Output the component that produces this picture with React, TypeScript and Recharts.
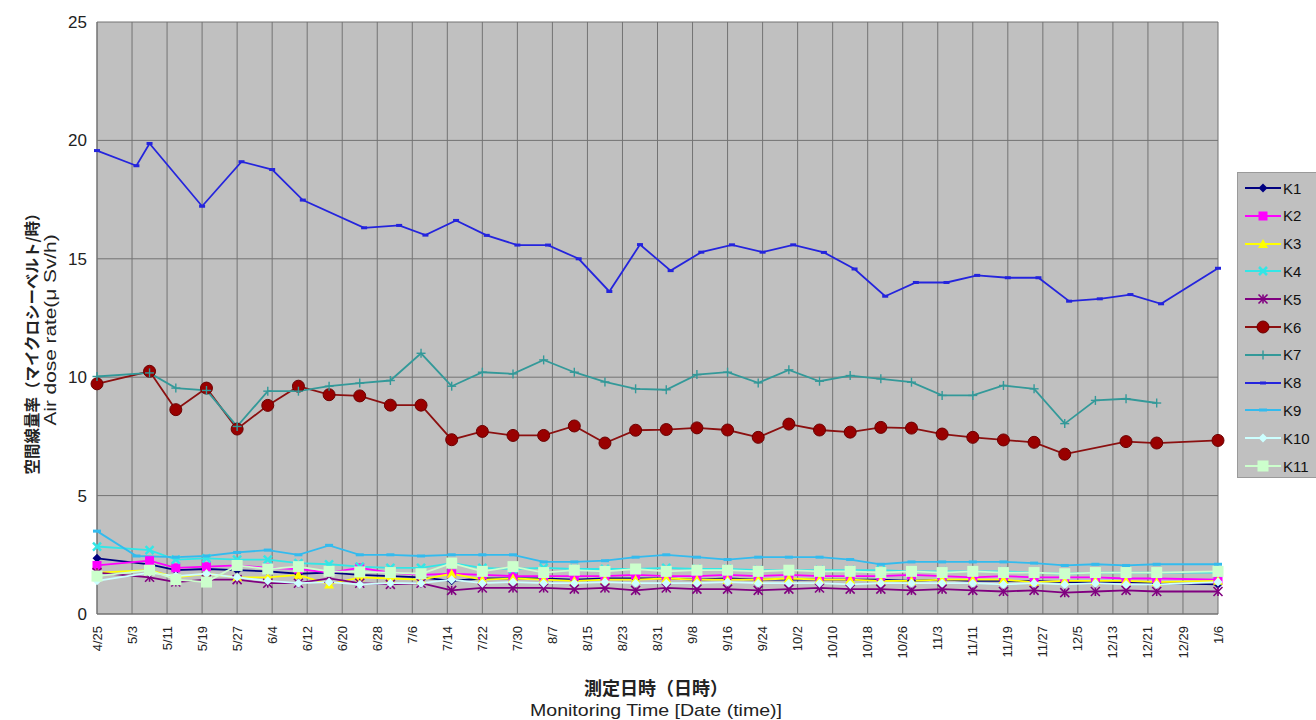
import { LineChart, Line, XAxis, YAxis, CartesianGrid } from "recharts";

// axis ticks
const tickDates = [
  "4/25", "5/3", "5/11", "5/19", "5/27", "6/4", "6/12", "6/20", "6/28", "7/6", "7/14",
  "7/22", "7/30", "8/7", "8/15", "8/23", "8/31", "9/8", "9/16", "9/24", "10/2", "10/10",
  "10/18", "10/26", "11/3", "11/11", "11/19", "11/27", "12/5", "12/13", "12/21", "12/29", "1/6",
];
const yTicks = [0, 5, 10, 15, 20, 25];

// measurement dates
const weekDates = [
  "4/25", "5/7", "5/13", "5/20", "5/27", "6/3", "6/10", "6/17", "6/24", "7/1", "7/8", "7/15",
  "7/22", "7/29", "8/5", "8/12", "8/19", "8/26", "9/2", "9/9", "9/16", "9/23", "9/30", "10/7",
  "10/14", "10/21", "10/28", "11/4", "11/11", "11/18", "11/25", "12/2", "12/9", "12/16", "12/23", "1/6",
];
const k9Dates = [
  "4/25", "5/4", "5/13", "5/20", "5/27", "6/3", "6/10", "6/17", "6/24", "7/1", "7/8", "7/15",
  "7/22", "7/29", "8/5", "8/12", "8/19", "8/26", "9/2", "9/9", "9/16", "9/23", "9/30", "10/7",
  "10/14", "10/21", "10/28", "11/4", "11/11", "11/18", "11/25", "12/2", "12/9", "12/16", "12/23", "1/6",
];
const k6Dates = [
  "4/25", "5/7", "5/13", "5/20", "5/27", "6/3", "6/10", "6/17", "6/24", "7/1", "7/8", "7/15",
  "7/22", "7/29", "8/5", "8/12", "8/19", "8/26", "9/2", "9/9", "9/16", "9/23", "9/30", "10/7",
  "10/14", "10/21", "10/28", "11/4", "11/11", "11/18", "11/25", "12/2", "12/16", "12/23", "1/6",
];
const k7Dates = [
  "4/25", "5/7", "5/13", "5/20", "5/27", "6/3", "6/10", "6/17", "6/24", "7/1", "7/8", "7/15",
  "7/22", "7/29", "8/5", "8/12", "8/19", "8/26", "9/2", "9/9", "9/16", "9/23", "9/30", "10/7",
  "10/14", "10/21", "10/28", "11/4", "11/11", "11/18", "11/25", "12/2", "12/9", "12/16", "12/23",
];
const k8Dates = [
  "4/25", "5/4", "5/7", "5/19", "5/28", "6/4", "6/11", "6/25", "7/3", "7/9", "7/16", "7/23",
  "7/30", "8/6", "8/13", "8/20", "8/27", "9/3", "9/10", "9/17", "9/24", "10/1", "10/8", "10/15",
  "10/22", "10/29", "11/5", "11/12", "11/19", "11/26", "12/3", "12/10", "12/17", "12/24", "1/6",
];

// air dose rate, µSv/h
const k1 = [2.35, 2.1, 1.85, 1.9, 1.85, 1.8, 1.7, 1.75, 1.65, 1.6, 1.55, 1.4, 1.5, 1.5, 1.5, 1.45, 1.5, 1.5, 1.5, 1.45, 1.5, 1.45, 1.45, 1.45, 1.45, 1.45, 1.4, 1.45, 1.4, 1.4, 1.4, 1.35, 1.35, 1.35, 1.3, 1.25];
const k2 = [2.05, 2.25, 1.95, 2.0, 2.05, 1.95, 1.9, 1.75, 1.95, 1.75, 1.65, 1.7, 1.65, 1.6, 1.6, 1.6, 1.6, 1.65, 1.6, 1.6, 1.65, 1.6, 1.65, 1.6, 1.6, 1.6, 1.65, 1.6, 1.55, 1.6, 1.55, 1.55, 1.55, 1.5, 1.5, 1.45];
const k3 = [1.75, 1.85, 1.55, 1.7, 1.55, 1.55, 1.65, 1.25, 1.55, 1.5, 1.45, 1.7, 1.45, 1.5, 1.45, 1.4, 1.45, 1.45, 1.5, 1.45, 1.45, 1.45, 1.5, 1.45, 1.45, 1.4, 1.4, 1.45, 1.45, 1.45, 1.35, 1.4, 1.4, 1.4, 1.35, 1.4];
const k4 = [2.85, 2.7, 2.3, 2.35, 2.3, 2.3, 2.15, 2.1, 2.0, 1.95, 1.95, 2.15, 1.95, 1.9, 1.95, 1.9, 1.9, 1.9, 1.95, 1.9, 1.9, 1.85, 1.85, 1.85, 1.85, 1.85, 1.8, 1.8, 1.8, 1.8, 1.75, 1.7, 1.75, 1.75, 1.75, 1.75];
const k5 = [1.75, 1.55, 1.35, 1.45, 1.45, 1.3, 1.3, 1.5, 1.3, 1.25, 1.3, 1.0, 1.1, 1.1, 1.1, 1.05, 1.1, 1.0, 1.1, 1.05, 1.05, 1.0, 1.05, 1.1, 1.05, 1.05, 1.0, 1.05, 1.0, 0.95, 1.0, 0.9, 0.95, 1.0, 0.95, 0.95];
const k6 = [9.72, 10.25, 8.63, 9.54, 7.81, 8.81, 9.62, 9.26, 9.21, 8.82, 8.82, 7.36, 7.71, 7.54, 7.54, 7.94, 7.22, 7.76, 7.79, 7.86, 7.77, 7.46, 8.02, 7.77, 7.68, 7.88, 7.85, 7.6, 7.46, 7.35, 7.25, 6.75, 7.28, 7.22, 7.33];
const k7 = [10.03, 10.18, 9.54, 9.44, 7.92, 9.41, 9.41, 9.62, 9.75, 9.86, 11.01, 9.62, 10.21, 10.14, 10.73, 10.21, 9.8, 9.51, 9.47, 10.11, 10.21, 9.76, 10.31, 9.83, 10.07, 9.93, 9.79, 9.23, 9.23, 9.65, 9.51, 8.04, 9.02, 9.09, 8.91];
const k8 = [19.57, 18.93, 19.87, 17.22, 19.1, 18.77, 17.48, 16.31, 16.41, 16.0, 16.62, 15.99, 15.58, 15.58, 15.0, 13.62, 15.6, 14.5, 15.28, 15.59, 15.28, 15.59, 15.27, 14.57, 13.42, 14.0, 14.0, 14.3, 14.2, 14.2, 13.21, 13.31, 13.49, 13.1, 14.6];
const k9 = [3.5, 2.45, 2.4, 2.45, 2.6, 2.7, 2.5, 2.9, 2.5, 2.5, 2.45, 2.5, 2.5, 2.5, 2.2, 2.2, 2.25, 2.4, 2.5, 2.4, 2.3, 2.4, 2.4, 2.4, 2.3, 2.1, 2.2, 2.2, 2.2, 2.2, 2.15, 2.05, 2.1, 2.05, 2.1, 2.1];
const k10 = [1.4, 1.75, 1.6, 1.7, 1.55, 1.4, 1.3, 1.35, 1.25, 1.3, 1.3, 1.45, 1.3, 1.35, 1.3, 1.3, 1.35, 1.3, 1.3, 1.3, 1.35, 1.3, 1.3, 1.3, 1.25, 1.3, 1.3, 1.3, 1.3, 1.25, 1.3, 1.25, 1.3, 1.25, 1.25, 1.35];
const k11 = [1.6, 1.85, 1.45, 1.35, 2.05, 1.9, 2.0, 1.8, 1.78, 1.75, 1.7, 2.15, 1.8, 2.0, 1.75, 1.85, 1.8, 1.9, 1.8, 1.85, 1.85, 1.8, 1.85, 1.8, 1.8, 1.75, 1.8, 1.75, 1.8, 1.75, 1.75, 1.7, 1.75, 1.75, 1.75, 1.8];

// days since 4/25 (January belongs to the following year)
const toDay = (md: string) => {
  const [m, d] = md.split("/").map(Number);
  const year = m < 4 ? 2012 : 2011;
  return Math.round((Date.UTC(year, m - 1, d) - Date.UTC(2011, 3, 25)) / 86400000);
};

type Shape = "diamond" | "square" | "triangle" | "cross" | "asterisk" | "circle" | "plus" | "dash";

const series: { name: string; dates: string[]; values: number[]; color: string; fill: string; shape: Shape; size: number }[] = [
  { name: "K1", dates: weekDates, values: k1, color: "#000080", fill: "#000080", shape: "diamond", size: 9 },
  { name: "K2", dates: weekDates, values: k2, color: "#ff00ff", fill: "#ff00ff", shape: "square", size: 9 },
  { name: "K3", dates: weekDates, values: k3, color: "#ffff00", fill: "#ffff00", shape: "triangle", size: 10 },
  { name: "K4", dates: weekDates, values: k4, color: "#33e6e6", fill: "#33e6e6", shape: "cross", size: 8 },
  { name: "K5", dates: weekDates, values: k5, color: "#800080", fill: "#800080", shape: "asterisk", size: 9 },
  { name: "K6", dates: k6Dates, values: k6, color: "#8b1010", fill: "#990000", shape: "circle", size: 12 },
  { name: "K7", dates: k7Dates, values: k7, color: "#339999", fill: "#339999", shape: "plus", size: 9 },
  { name: "K8", dates: k8Dates, values: k8, color: "#2424dd", fill: "#2424dd", shape: "dash", size: 6 },
  { name: "K9", dates: k9Dates, values: k9, color: "#33bbee", fill: "#33bbee", shape: "dash", size: 8 },
  { name: "K10", dates: weekDates, values: k10, color: "#ccffff", fill: "#ccffff", shape: "diamond", size: 9 },
  { name: "K11", dates: weekDates, values: k11, color: "#ccffcc", fill: "#ccffcc", shape: "square", size: 11 },
];

function Marker({ shape, cx, cy, color, fill, size }: { shape: Shape; cx: number; cy: number; color: string; fill: string; size: number }) {
  const h = size / 2;
  switch (shape) {
    case "diamond":
      return <polygon points={`${cx},${cy - h} ${cx + h},${cy} ${cx},${cy + h} ${cx - h},${cy}`} fill={fill} />;
    case "square":
      return <rect x={cx - h} y={cy - h} width={size} height={size} fill={fill} />;
    case "triangle":
      return <polygon points={`${cx},${cy - h} ${cx + h},${cy + h * 0.8} ${cx - h},${cy + h * 0.8}`} fill={fill} />;
    case "cross":
      return (
        <g stroke={color} strokeWidth={2.5}>
          <line x1={cx - h} y1={cy - h} x2={cx + h} y2={cy + h} />
          <line x1={cx - h} y1={cy + h} x2={cx + h} y2={cy - h} />
        </g>
      );
    case "asterisk":
      return (
        <g stroke={color} strokeWidth={1.6}>
          <line x1={cx - h} y1={cy - h} x2={cx + h} y2={cy + h} />
          <line x1={cx - h} y1={cy + h} x2={cx + h} y2={cy - h} />
          <line x1={cx} y1={cy - h} x2={cx} y2={cy + h} />
        </g>
      );
    case "circle":
      return <circle cx={cx} cy={cy} r={h} fill={fill} stroke="#6b0000" strokeWidth={1} />;
    case "plus":
      return (
        <g stroke={color} strokeWidth={1.4}>
          <line x1={cx - h} y1={cy} x2={cx + h} y2={cy} />
          <line x1={cx} y1={cy - h} x2={cx} y2={cy + h} />
        </g>
      );
    case "dash":
      return <rect x={cx - h} y={cy - 1.5} width={size} height={3} fill={fill} />;
  }
}

const XTick = ({ x, y, payload }: any) => (
  <text
    x={x}
    y={y + 4}
    transform={`rotate(-90 ${x} ${y + 4})`}
    textAnchor="end"
    dy="0.35em"
    fontSize={13}
    fill="#222"
  >
    {tickDates[tickDates.map(toDay).indexOf(payload.value)]}
  </text>
);

const titleStyle = {
  position: "absolute" as const,
  whiteSpace: "nowrap" as const,
  color: "#222",
};

export default function App() {
  return (
    <div
      style={{
        position: "absolute",
        left: 0,
        top: 0,
        width: 1316,
        height: 720,
        background: "#fff",
        fontFamily: "'Liberation Sans', Arial, sans-serif",
        overflow: "hidden",
      }}
    >
      <LineChart width={1316} height={720} margin={{ top: 22, right: 98, bottom: 66, left: 0 }}>
        <CartesianGrid fill="#c0c0c0" stroke="#737373" strokeWidth={1} />
        <XAxis
          type="number"
          dataKey="day"
          domain={[0, 256]}
          ticks={tickDates.map(toDay)}
          interval={0}
          height={40}
          tickLine={false}
          axisLine={{ stroke: "#737373" }}
          tick={<XTick />}
        />
        <YAxis
          type="number"
          domain={[0, 25]}
          ticks={yTicks}
          width={97}
          tickLine={false}
          tickMargin={4}
          axisLine={{ stroke: "#737373" }}
          tick={{ fontSize: 17, fill: "#222" }}
        />
        {series.map((s) => (
          <Line
            key={s.name}
            name={s.name}
            data={s.dates.map((d, i) => ({ day: toDay(d), v: s.values[i] }))}
            dataKey="v"
            stroke={s.color}
            strokeWidth={1.8}
            isAnimationActive={false}
            activeDot={false}
            dot={(p: any) => (
              <Marker key={`${s.name}-${p.index}`} shape={s.shape} cx={p.cx} cy={p.cy} color={s.color} fill={s.fill} size={s.size} />
            )}
          />
        ))}
      </LineChart>

      {/* y axis title */}
      <div
        style={{
          ...titleStyle,
          left: 31,
          top: 340,
          transform: "translate(-50%, -50%) rotate(-90deg)",
          fontFamily: "'Noto Sans CJK JP', sans-serif",
          fontWeight: 700,
          fontSize: 15.5,
        }}
      >
        空間線量率（マイクロシーベルト/時）
      </div>
      <div
        style={{
          ...titleStyle,
          left: 51,
          top: 330,
          transform: "translate(-50%, -50%) rotate(-90deg) scaleX(1.3)",
          fontSize: 16,
        }}
      >
        Air dose rate(μ Sv/h)
      </div>

      {/* x axis title */}
      <div
        style={{
          ...titleStyle,
          left: 656,
          top: 687,
          transform: "translate(-50%, -50%)",
          fontFamily: "'Noto Sans CJK JP', sans-serif",
          fontWeight: 700,
          fontSize: 18,
        }}
      >
        測定日時（日時）
      </div>
      <div
        style={{
          ...titleStyle,
          left: 656,
          top: 711,
          transform: "translate(-50%, -50%) scaleX(1.15)",
          fontSize: 17,
        }}
      >
        Monitoring Time [Date (time)]
      </div>

      {/* legend */}
      <div
        style={{
          position: "absolute",
          left: 1237,
          top: 172,
          width: 90,
          height: 306,
          background: "#c0c0c0",
          border: "1px solid #9a9a9a",
          boxSizing: "border-box",
        }}
      >
        {series.map((s, i) => (
          <div
            key={s.name}
            style={{ position: "absolute", left: 6, top: 4 + i * 27.8, height: 22, display: "flex", alignItems: "center" }}
          >
            <svg width={38} height={22}>
              <line x1={1} y1={11} x2={37} y2={11} stroke={s.color} strokeWidth={1.8} />
              <Marker shape={s.shape} cx={19} cy={11} color={s.color} fill={s.fill} size={s.size} />
            </svg>
            <span style={{ fontSize: 15, color: "#111", marginLeft: 1 }}>{s.name}</span>
          </div>
        ))}
      </div>
    </div>
  );
}
